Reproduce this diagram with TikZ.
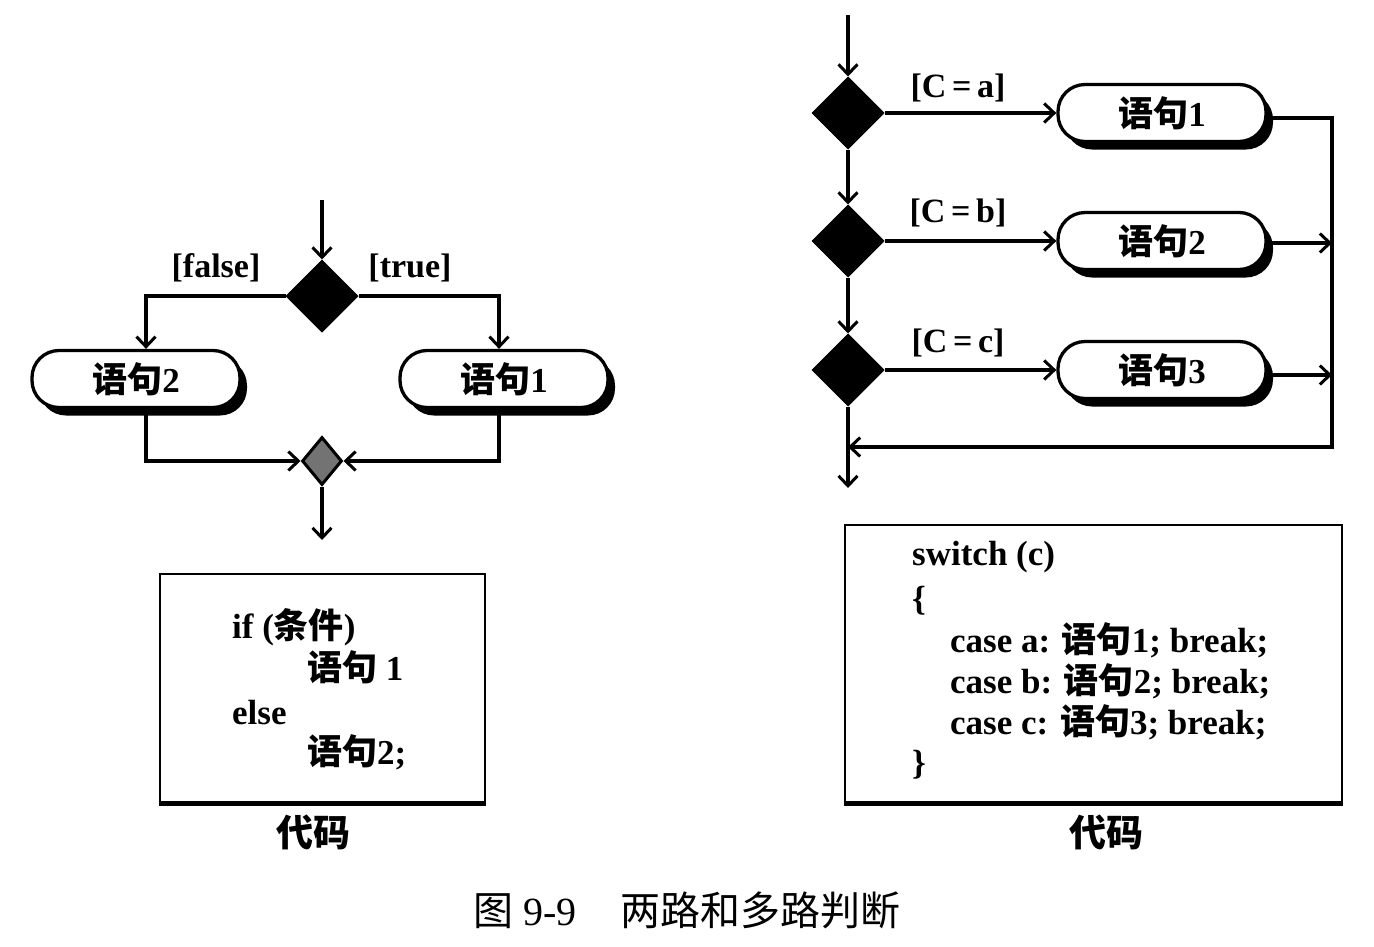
\documentclass[tikz,border=0pt]{standalone}
\usepackage{fontspec}
\setmainfont{Liberation Serif}
\newfontfamily\cjk{Noto Sans CJK SC}
\usetikzlibrary{shapes.geometric,arrows.meta,shadows}
\newcommand{\yjx}{{\cjk 语句}}
\begin{document}
\begin{tikzpicture}[x=1pt,y=-1pt,
  conn/.style={line width=3.5pt},
  arr/.style={conn,-{Straight Barb[length=10pt,width=19pt,line width=3pt]}},
  act/.style={draw,line width=3.3pt,fill=white,rounded corners=27pt,
    minimum width=208pt,minimum height=57pt,inner sep=0pt,
    font=\fontsize{35}{38}\selectfont\bfseries,
    drop shadow={shadow xshift=7pt,shadow yshift=-8pt,fill=black,opacity=1}},
  dec/.style={diamond,fill=black,draw=black,line width=1pt,
    minimum width=72pt,minimum height=72pt,inner sep=0pt},
  merge/.style={diamond,fill=black!55,draw=black,line width=3pt,
    minimum width=40pt,minimum height=48pt,inner sep=0pt},
  lbl/.style={font=\fontsize{34}{38}\selectfont\bfseries,inner sep=0pt},
  codebox/.style={draw,line width=2.8pt,inner sep=0pt},
  code/.style={anchor=west,inner sep=0pt,font=\fontsize{35}{38}\selectfont\bfseries},
  capt/.style={inner sep=0pt,font=\fontsize{37}{40}\selectfont\bfseries}]
\useasboundingbox (0,0) rectangle (1374,946);
\fill[white] (0,0) rectangle (1374,946);

% ---------- left: two-way decision ----------
\coordinate (ltop) at (322,200);
\node[dec] (d0) at (322,296) {};
\node[act] (s2) at (136,379) {\yjx2};
\node[act] (s1) at (504,379) {\yjx1};
\node[merge] (m) at (322,461) {};
\coordinate (lbot) at (322,540);
\node[lbl] (lf) at (216,268) {[false]};
\node[lbl] (lt) at (410,268) {[true]};

\draw[arr] (ltop) -- (d0.north);
\draw[arr] (d0.west) -| ([xshift=10pt]s2.north);
\draw[arr] (d0.east) -| ([xshift=-5pt]s1.north);
\draw[arr] ([xshift=10pt]s2.south) |- (m.west);
\draw[arr] ([xshift=-5pt]s1.south) |- (m.east);
\draw[arr] (m.south) -- (lbot);

% left code box
\node[codebox,minimum width=325pt,minimum height=228pt] (c1) at (322.5,688) {};
\draw[line width=5.5pt] (c1.south west) -- (c1.south east);
\node[code] (c1a) at (232,627) {if ({\cjk 条件})};
\node[code] (c1b) at (307,667) {\yjx\ 1};
\node[code] (c1c) at (232,713) {else};
\node[code] (c1d) at (307,752) {\yjx2;};
\node[capt] (k1) at (313,832) {\cjk 代码};

% ---------- right: multi-way decision ----------
\coordinate (rtop) at (848,15);
\node[dec] (da) at (848,113) {};
\node[dec] (db) at (848,241) {};
\node[dec] (dc) at (848,370) {};
\node[act] (r1) at (1162,113) {\yjx1};
\node[act] (r2) at (1162,241) {\yjx2};
\node[act] (r3) at (1162,370) {\yjx3};
\coordinate (rcor) at (1332,447);
\coordinate (rjoin) at (848,447);
\coordinate (rbot) at (848,488);
\node[lbl] (la) at (958,88) {[C\,=\,a]};
\node[lbl] (lb) at (958,213) {[C\,=\,b]};
\node[lbl] (lc) at (958,343) {[C\,=\,c]};

\draw[arr] (rtop) -- (da.north);
\draw[arr] (da.south) -- (db.north);
\draw[arr] (db.south) -- (dc.north);
\draw[arr] (dc.south) -- (rbot);
\draw[arr] (da.east) -- (r1.west);
\draw[arr] (db.east) -- (r2.west);
\draw[arr] (dc.east) -- (r3.west);
\draw[arr] ([yshift=-5pt]r1.east) -| (rcor) -- (rjoin);
\draw[arr] ([yshift=-2pt]r2.east) -- ([yshift=-2pt]r2.east -| rcor);
\draw[arr] ([yshift=-5pt]r3.east) -- ([yshift=-5pt]r3.east -| rcor);

% right code box
\node[codebox,minimum width=497pt,minimum height=277pt] (c2) at (1093.5,663.5) {};
\draw[line width=5.5pt] (c2.south west) -- (c2.south east);
\node[code] (c2a) at (912,557) {switch (c)};
\node[code] (c2b) at (912,601) {\{};
\node[code] (c2c) at (950,640) {case a: \yjx1; break;};
\node[code] (c2d) at (950,681) {case b: \yjx2; break;};
\node[code] (c2e) at (950,722) {case c: \yjx3; break;};
\node[code] (c2f) at (912,765) {\}};
\node[capt] (k2) at (1106,832) {\cjk 代码};

% caption
\node[inner sep=0pt,font=\fontsize{40}{44}\selectfont] (cap) at (687,910)
  {{\cjk 图}\ 9-9\hspace{1.1em}{\cjk 两路和多路判断}};
\end{tikzpicture}
\end{document}
